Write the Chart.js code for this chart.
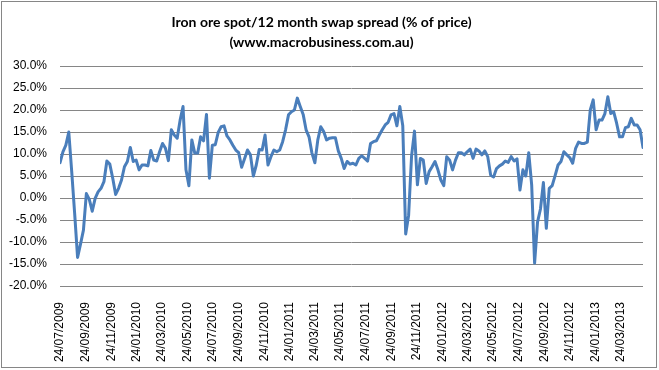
<!DOCTYPE html>
<html>
<head>
<meta charset="utf-8">
<script src="https://cdn.jsdelivr.net/npm/chart.js@4.4.0/dist/chart.umd.min.js"></script>
<style>
  html, body { margin: 0; padding: 0; background: #fff; }
</style>
</head>
<body>
<canvas id="spreadChart" width="659" height="370"></canvas>
<script>
const titleLines = ['Iron ore spot/12 month swap spread (% of price)', '(www.macrobusiness.com.au)'];

// weekly readings starting 24/07/2009, % of price
const firstWeek = '24/07/2009';
const spread = [
  8.0, 10.5, 12.0, 15.0, 6.0, -3.5, -13.5, -10.5, -7.3, 1.0,
  -0.3, -3.0, -0.1, 1.4, 2.2, 3.7, 8.4, 7.7, 4.5, 0.8,
  2.2, 4.1, 7.1, 8.3, 11.5, 8.3, 8.6, 6.4, 7.5, 7.5,
  7.3, 10.8, 8.6, 8.4, 10.5, 12.4, 11.3, 8.5, 15.5, 14.3,
  13.6, 17.7, 20.8, 6.4, 2.8, 13.2, 10.2, 10.2, 13.9, 13.0,
  19.0, 4.5, 12.0, 12.1, 14.9, 16.2, 16.4, 14.1, 13.2, 12.0,
  10.9, 10.3, 7.0, 8.9, 10.9, 9.8, 5.0, 7.5, 11.0, 10.9,
  14.3, 7.5, 9.4, 10.9, 10.5, 10.9, 12.8, 15.5, 18.9, 19.6,
  20.0, 22.7, 20.8, 19.0, 15.5, 13.9, 10.2, 8.0, 13.2, 16.2,
  15.1, 13.2, 13.6, 13.7, 13.7, 10.7, 9.0, 6.7, 8.3, 7.7,
  7.9, 7.5, 9.0, 9.6, 9.0, 8.4, 12.4, 12.8, 13.0, 14.3,
  15.5, 16.6, 17.2, 18.9, 19.2, 16.4, 20.8, 16.4, -8.2, -3.9,
  9.5, 15.2, 3.0, 9.0, 8.6, 3.3, 6.0, 7.1, 8.3, 6.4,
  4.1, 2.8, 9.4, 8.6, 6.4, 8.6, 10.3, 10.3, 9.8, 10.5,
  11.1, 9.0, 11.1, 10.7, 9.8, 10.7, 9.4, 5.2, 4.8, 6.7,
  7.3, 7.7, 8.4, 8.1, 9.4, 8.4, 8.9, 1.8, 6.4, 5.0,
  10.3, 3.0, -14.8, -5.5, -2.5, 3.5, -6.9, 2.2, 2.8, 5.1,
  7.5, 8.3, 10.5, 9.8, 9.2, 7.9, 11.3, 12.7, 12.4, 12.4,
  12.7, 20.0, 22.3, 15.5, 17.7, 17.7, 19.2, 23.0, 19.2, 19.6,
  17.0, 13.9, 13.9, 16.0, 16.2, 18.1, 16.6, 16.6, 15.5, 11.5
];

const tickLabels = [
  '24/07/2009', '24/09/2009', '24/11/2009', '24/01/2010', '24/03/2010', '24/05/2010',
  '24/07/2010', '24/09/2010', '24/11/2010', '24/01/2011', '24/03/2011', '24/05/2011',
  '24/07/2011', '24/09/2011', '24/11/2011', '24/01/2012', '24/03/2012', '24/05/2012',
  '24/07/2012', '24/09/2012', '24/11/2012', '24/01/2013', '24/03/2013'
];
const yTicks = [-20, -15, -10, -5, 0, 5, 10, 15, 20, 25, 30];

// days since the first reading
function dayOf(label) {
  const p = label.split('/');
  return Date.UTC(+p[2], +p[1] - 1, +p[0]) / 86400000;
}
const day0 = dayOf(firstWeek);
const tickDays = tickLabels.map(l => dayOf(l) - day0);
const points = spread.map((v, i) => ({ x: i * 7, y: v }));
const lastDay = points[points.length - 1].x;

// grey frame round the whole chart, like the Excel chart area
const frame = {
  id: 'frame',
  beforeDraw(chart) {
    const c = chart.ctx;
    c.save();
    c.fillStyle = '#fff';
    c.fillRect(0, 0, chart.width, chart.height);
    c.restore();
  },
  afterDraw(chart) {
    const c = chart.ctx;
    c.save();
    c.strokeStyle = '#868686';
    c.lineWidth = 1;
    c.strokeRect(1.5, 1.5, 655, 366);
    c.restore();
  }
};

const tickFont = { family: "'Liberation Sans', Arial, sans-serif", size: 12 };

new Chart(document.getElementById('spreadChart').getContext('2d'), {
  type: 'line',
  data: {
    datasets: [{
      data: points,
      borderColor: '#4a7ebb',
      borderWidth: 3,
      borderJoinStyle: 'round',
      borderCapStyle: 'round',
      pointRadius: 0,
      fill: false,
      tension: 0
    }]
  },
  options: {
    responsive: false,
    animation: false,
    layout: { padding: { left: 0, right: 16, top: 0, bottom: 0 } },
    plugins: {
      legend: { display: false },
      tooltip: { enabled: false },
      title: {
        display: true,
        text: titleLines,
        color: '#000',
        font: { family: "Lato, 'Noto Sans', sans-serif", size: 14, weight: 'bold', lineHeight: 1.4 },
        padding: { top: 13, bottom: 13.8 }
      }
    },
    scales: {
      x: {
        type: 'linear',
        min: 0,
        max: lastDay,
        grid: { display: false },
        border: { display: false },
        afterBuildTicks: s => { s.ticks = tickDays.map(v => ({ value: v })); },
        afterFit: s => { s.height = 84; },
        ticks: {
          autoSkip: false,
          minRotation: 90,
          maxRotation: 90,
          padding: 8,
          color: '#000',
          font: tickFont,
          callback: (v, i) => tickLabels[i]
        }
      },
      y: {
        min: -20,
        max: 30,
        afterBuildTicks: s => { s.ticks = yTicks.map(v => ({ value: v })); },
        afterFit: s => { s.width = 60; },
        grid: { color: '#868686', lineWidth: 1, drawTicks: false },
        border: { display: false },
        ticks: {
          padding: 13,
          color: '#000',
          font: tickFont,
          callback: v => v.toFixed(1) + '%'
        }
      }
    }
  },
  plugins: [frame]
});
</script>
</body>
</html>
